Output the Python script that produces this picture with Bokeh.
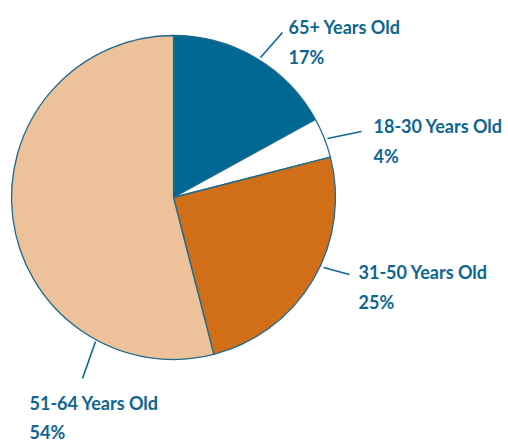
import math
from bokeh.plotting import figure
from bokeh.models import Range1d, ColumnDataSource
from bokeh.core.properties import value
from bokeh.embed import file_html
from bokeh.resources import INLINE

# data
groups = ["65+ Years Old", "18-30 Years Old", "31-50 Years Old", "51-64 Years Old"]
shares = [17, 4, 25, 54]
colors = ["#006893", "#ffffff", "#d06f18", "#edc199"]

# layout (screen pixels, y down)
W, H = 508, 442
cx, cy, R = 173, 197, 162
label_x = [288, 373, 358, 29]
label_base = [26, 125, 271, 402]
line_gap = [30, 30, 30, 29]
leader_from = [(260, 57), (327, 138), (323, 267), (95, 341)]
leader_to = [(282, 32), (361, 131), (349, 274), (82, 378)]
TXT = "#0d6690"
FONT = "Lato"

def sy(y):
    return H - y

p = figure(width=W, height=H, output_backend="svg", toolbar_location=None,
           x_range=Range1d(0, W), y_range=Range1d(0, H), min_border=0)
p.axis.visible = False
p.grid.visible = False
p.outline_line_color = None
p.background_fill_color = None
p.border_fill_color = None

total = sum(shares)
starts, ends = [], []
a = math.pi / 2
for s in shares:
    b = a - 2 * math.pi * s / total
    starts.append(b)
    ends.append(a)
    a = b
src = ColumnDataSource(dict(start=starts, end=ends, color=colors))
p.wedge(x=cx, y=sy(cy), radius=R, start_angle="start", end_angle="end",
        fill_color="color", line_color="#1f6a8c", line_width=1.3, source=src)

p.segment(x0=[f[0] for f in leader_from], y0=[sy(f[1]) for f in leader_from],
          x1=[t[0] for t in leader_to], y1=[sy(t[1]) for t in leader_to],
          line_color=TXT, line_width=1.6)

p.text(x=label_x, y=[sy(b) for b in label_base], text=groups,
       text_font=value(FONT), text_font_style="bold", text_font_size="18px",
       text_color=TXT, text_baseline="alphabetic", text_align="left")
p.text(x=label_x, y=[sy(b + g) for b, g in zip(label_base, line_gap)],
       text=[f"{s}%" for s in shares],
       text_font=value(FONT), text_font_style="bold", text_font_size="18px",
       text_color=TXT, text_baseline="alphabetic", text_align="left")

open("out.html", "w").write(file_html(p, INLINE))
